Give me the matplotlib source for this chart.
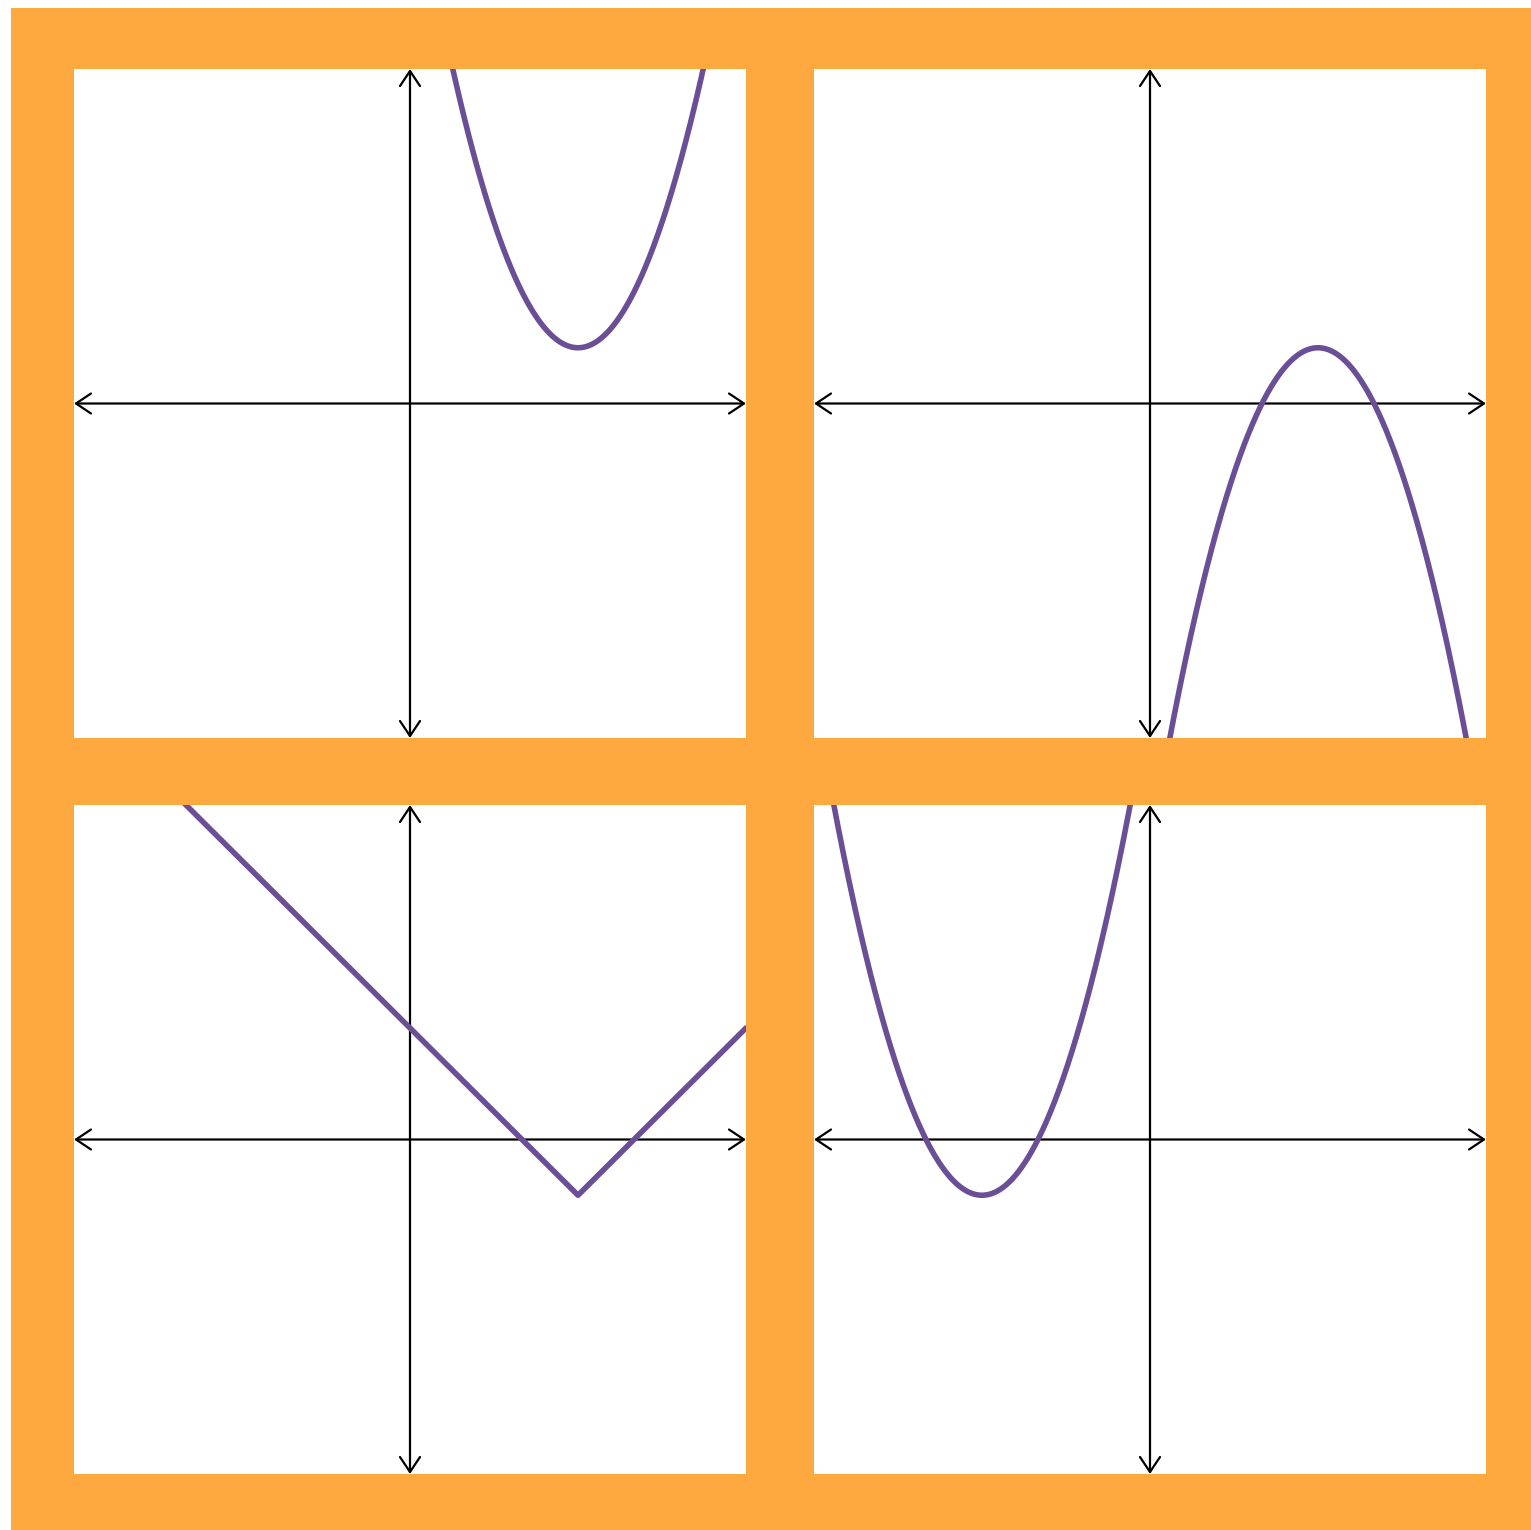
import numpy as np
import matplotlib
matplotlib.use("Agg")
import matplotlib.pyplot as plt
from matplotlib.patches import Rectangle

# Data: four function graphs, each a shape with a vertex and a leading coefficient
panel_kinds = ["parabola", "parabola", "abs", "parabola"]
vertex_x = [3, 3, 3, -3]
vertex_y = [1, 1, -1, -1]
lead_coef = [1, -1, 1, 1]
x_limits = [-6, 6]
y_limits = [-6, 6]

W, H = 1531, 1530
fig = plt.figure(figsize=(W / 100, H / 100), dpi=100, facecolor="white")

orange = "#FDA940"
purple = "#6A4F96"

# orange frame (background axes)
bg = fig.add_axes([0, 0, 1, 1], zorder=-10)
bg.set_xlim(0, W)
bg.set_ylim(H, 0)
bg.axis("off")
bg.add_patch(Rectangle((11, 8), W - 11, H - 8, facecolor=orange, edgecolor="none"))

# panel pixel boxes (left, top, right, bottom)
boxes = [(74, 69, 746, 738), (814, 69, 1486, 738),
         (74, 805, 746, 1474), (814, 805, 1486, 1474)]

for i, (l, t, r, b) in enumerate(boxes):
    ax = fig.add_axes([l / W, 1 - b / H, (r - l) / W, (b - t) / H], zorder=1)
    ax.set_facecolor("white")
    ax.set_xlim(*x_limits)
    ax.set_ylim(*y_limits)
    for s in ax.spines.values():
        s.set_visible(False)
    ax.set_xticks([])
    ax.set_yticks([])
    astyle = dict(arrowstyle="<->, head_length=0.6, head_width=0.4",
                  color="black", lw=1.6, shrinkA=0, shrinkB=0,
                  mutation_scale=18)
    ax.annotate("", xy=(x_limits[1], 0), xytext=(x_limits[0], 0),
                arrowprops=astyle, annotation_clip=False)
    ax.annotate("", xy=(0, y_limits[1]), xytext=(0, y_limits[0]),
                arrowprops=astyle, annotation_clip=False)
    xs = np.linspace(x_limits[0], x_limits[1], 1201)
    if panel_kinds[i] == "parabola":
        ys = lead_coef[i] * (xs - vertex_x[i]) ** 2 + vertex_y[i]
    else:
        ys = lead_coef[i] * np.abs(xs - vertex_x[i]) + vertex_y[i]
    ax.plot(xs, ys, color=purple, lw=4.0, solid_joinstyle="round",
            solid_capstyle="round", zorder=3)

fig.savefig("out.png", dpi=100, facecolor="white")
